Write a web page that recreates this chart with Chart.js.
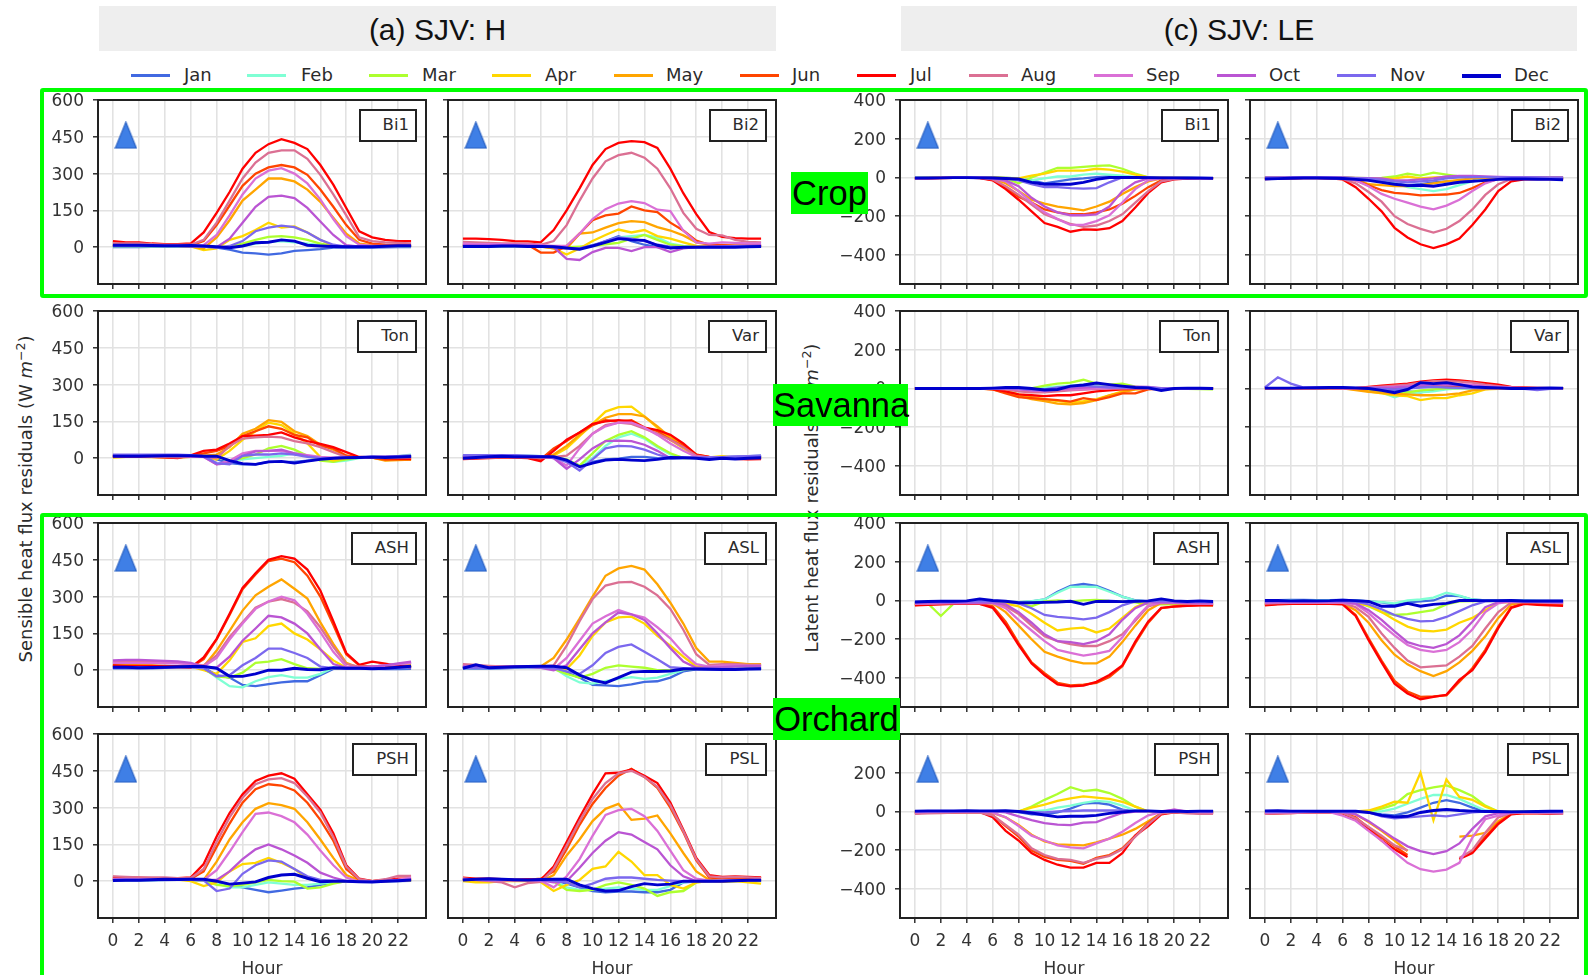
<!DOCTYPE html>
<html>
<head>
<meta charset="utf-8">
<title>SJV residuals</title>
<script src="https://cdn.jsdelivr.net/npm/chart.js@4/dist/chart.umd.js"></script>
<style>
  html, body { margin: 0; padding: 0; background: #fff; width: 1591px; height: 975px; overflow: hidden; }
  body { position: relative; font-family: "DejaVu Sans", sans-serif; color: #2b2b2b; filter: blur(0.4px); }
  canvas { position: absolute; }
  .head { position: absolute; top: 6px; height: 45px; line-height: 47px; background: #eeeeee; text-align: center;
          font: 30px/47px "Liberation Sans", sans-serif; color: #111; }
  .swatch { position: absolute; top: 74px; height: 3px; width: 39px; }
  .legtext { position: absolute; top: 64px; font-size: 18px; line-height: 22px; }
  .tag { position: absolute; box-sizing: border-box; height: 33px; border: 2px solid #222; background: #fff;
         text-align: right; padding-right: 6px; font-size: 16.5px; line-height: 27px; white-space: nowrap; }
  .ylab { position: absolute; font-size: 18px; white-space: nowrap; transform: translate(-50%, -50%) rotate(-90deg); }
  .ylab sup { font-size: 12.5px; line-height: 0; }
  .frame { position: absolute; box-sizing: border-box; border: 4.5px solid #00ff00; border-radius: 3px; z-index: 5; }
  .group { position: absolute; z-index: 6; background: #00ff00; color: #000; height: 42px; text-align: center;
           font: 34.5px/42px "Liberation Sans", sans-serif; }
</style>
</head>
<body>
<script>
const months = ['Jan', 'Feb', 'Mar', 'Apr', 'May', 'Jun', 'Jul', 'Aug', 'Sep', 'Oct', 'Nov', 'Dec'];
const monthColors = ['#4169e1', '#7fffd4', '#adff2f', '#ffd700', '#ffa500', '#ff4500', '#ff0000', '#db7093', '#da70d6', '#ba55d3', '#7b68ee', '#0000cd'];
const hours = [0,1,2,3,4,5,6,7,8,9,10,11,12,13,14,15,16,17,18,19,20,21,22,23];
const hourTicks = [0,2,4,6,8,10,12,14,16,18,20,22];
const hTicks = [0,150,300,450,600];
const leTicks = [-400,-200,0,200,400];

// Sensible heat flux, each row Jan..Dec
const hBi1 = [
  [0,0,0,1,2,3,3,2,-2,-10,-22,-25,-30,-25,-15,-12,-8,-2,-1,-2,-2,-1,0,0],
  [3,3,3,3,3,3,3,3,0,0,5,15,22,25,20,15,8,3,1,1,2,2,3,3],
  [4,4,4,4,4,4,4,2,0,3,15,30,42,45,40,30,15,5,2,2,3,3,4,4],
  [5,5,5,5,5,5,3,-12,-5,30,45,70,100,80,85,60,30,5,2,3,4,4,5,5],
  [6,6,6,5,5,5,3,-5,40,110,190,235,280,280,268,235,185,120,55,15,8,6,6,6],
  [10,8,8,8,8,8,8,25,90,170,250,300,325,335,325,295,235,165,90,30,15,10,8,8],
  [25,20,20,15,12,12,15,60,140,225,320,385,420,440,425,400,335,255,160,65,40,30,25,25],
  [15,15,15,12,10,10,10,30,100,190,280,345,385,395,395,360,295,215,130,40,25,20,18,15],
  [5,5,5,5,5,5,5,8,50,130,215,280,312,322,300,260,195,115,45,10,5,5,5,5],
  [5,5,5,5,5,5,4,2,0,35,100,165,205,210,200,160,105,50,8,2,3,4,5,5],
  [4,4,4,4,4,4,3,2,-3,5,25,65,80,88,82,60,30,10,2,1,2,3,3,4],
  [8,8,8,7,6,6,7,5,2,-2,5,18,20,30,25,8,5,3,2,2,2,4,6,6]
];
const hBi2 = [
  [2,2,2,2,3,3,2,0,-3,-5,5,25,45,25,10,0,-3,-1,0,0,0,1,1,2],
  [3,3,3,3,3,3,2,0,-2,0,8,20,40,45,50,40,15,5,2,2,2,3,3,3],
  [4,4,4,4,4,4,3,2,0,2,5,12,18,35,50,30,10,3,2,2,3,3,4,4],
  [5,5,5,5,5,5,2,-5,-30,-5,25,50,72,60,70,45,35,20,5,3,4,4,5,5],
  [6,6,6,6,6,6,3,-5,-5,55,60,80,98,106,102,82,68,48,20,10,8,6,6,6],
  [12,10,10,10,10,10,-22,-22,5,55,110,130,137,166,150,143,100,68,27,10,8,6,6,6],
  [35,35,33,30,25,24,20,70,150,240,335,400,425,432,428,405,320,220,135,62,42,37,35,35],
  [22,20,18,16,15,14,10,25,90,190,280,350,375,385,365,320,240,140,75,50,48,30,22,20],
  [15,12,12,12,10,10,8,5,5,55,115,155,178,188,180,153,147,68,20,15,20,18,15,15],
  [8,8,8,8,8,8,6,0,-48,-52,-20,-3,-3,-16,0,0,-20,-5,0,2,3,5,6,8],
  [4,4,4,4,4,4,3,0,-5,-5,8,25,40,35,25,10,2,0,1,1,2,3,3,4],
  [3,3,3,5,5,3,3,2,-3,-8,5,20,35,30,28,8,-3,0,0,0,0,0,2,3]
];
const hTon = [
  [10,10,10,10,10,10,10,8,-5,-20,-25,-25,-15,-15,-15,-10,-5,0,2,3,4,4,5,6],
  [12,12,12,12,12,12,12,10,5,-10,-5,0,5,10,20,10,0,-15,-10,0,3,5,8,14],
  [6,8,8,8,10,8,8,8,5,-10,0,15,40,50,35,10,-10,-15,-5,2,4,4,5,8],
  [2,5,5,5,4,2,5,5,-5,30,75,110,145,135,100,60,5,-10,0,3,2,-8,-6,-5],
  [5,6,5,4,3,2,8,10,15,45,100,120,155,148,110,90,55,35,10,3,2,-10,-8,-6],
  [6,6,6,5,5,3,10,20,30,50,90,110,130,120,95,85,50,40,10,3,2,-6,-5,-4],
  [8,6,6,5,3,0,12,30,35,60,90,92,95,105,85,70,58,45,25,5,3,0,-2,-4],
  [8,8,8,6,5,3,6,5,0,50,80,85,88,85,70,60,45,25,5,3,3,2,2,3],
  [10,10,10,10,10,10,8,5,-25,-10,20,30,30,30,20,12,5,2,2,3,4,5,6,8],
  [12,12,12,12,12,12,10,6,-25,-20,10,28,30,35,20,8,0,0,2,4,5,6,8,10],
  [14,14,14,14,14,14,12,8,-20,-25,10,15,15,20,15,5,0,0,2,3,5,6,8,10],
  [8,8,8,9,10,10,10,8,8,-10,-22,-25,-15,-13,-20,-12,-5,0,2,3,5,3,5,7]
];
const hVar = [
  [8,8,8,8,8,8,6,2,-10,-30,-15,-5,-2,5,5,0,-2,0,2,3,5,6,8,10],
  [10,10,10,10,10,10,8,4,-15,-30,0,50,85,100,80,45,15,2,0,1,3,4,6,8],
  [6,6,6,6,6,6,6,3,-5,-30,20,70,95,110,85,50,20,0,1,2,3,3,4,6],
  [2,3,5,5,5,5,5,10,40,90,140,190,208,210,170,125,75,40,10,3,8,2,2,3],
  [0,3,4,4,4,4,5,15,50,95,135,165,180,180,170,130,85,55,15,5,3,0,0,2],
  [-2,0,3,3,3,2,-5,40,70,105,135,155,150,155,125,110,75,50,12,3,2,-2,-2,0],
  [-4,-2,0,2,2,0,-12,30,75,105,140,150,155,150,125,115,95,60,15,5,2,-3,-5,-4],
  [-2,0,2,3,3,3,0,5,10,50,100,135,145,140,120,100,75,45,10,3,2,0,0,0],
  [4,6,8,8,8,7,5,0,-30,40,100,130,145,145,125,95,60,30,5,2,3,4,5,6],
  [8,8,8,8,8,8,6,0,-43,-5,40,70,72,70,55,30,0,2,2,3,4,5,6,8],
  [12,12,12,12,12,10,8,3,-15,-50,-5,40,50,48,35,15,0,1,2,3,4,6,8,10],
  [0,3,6,8,6,6,6,6,-8,-35,-20,-8,-5,-8,-10,-5,3,2,0,-5,0,-3,0,2]
];
const hASH = [
  [8,8,8,8,10,12,12,10,-20,-30,-60,-65,-57,-50,-45,-45,-20,5,8,6,5,4,4,5],
  [14,14,14,14,14,15,15,10,-30,-65,-70,-45,-28,-20,-30,-30,-15,10,10,8,8,10,12,14],
  [18,18,18,16,15,15,15,5,-25,-30,-10,30,35,45,25,8,5,5,6,8,10,12,14,18],
  [22,22,20,18,18,16,15,0,-15,40,115,130,180,190,150,125,85,40,10,10,12,15,18,20],
  [22,22,20,20,18,16,14,15,80,160,243,305,340,370,332,292,195,107,30,10,12,15,18,20],
  [18,16,15,15,14,12,12,45,125,225,330,390,445,455,440,385,300,185,65,20,15,15,15,15],
  [20,18,18,18,15,15,10,52,128,230,335,395,450,465,455,410,325,200,70,22,35,27,18,12],
  [35,34,34,34,32,30,26,20,60,135,195,255,280,290,275,240,175,95,25,15,15,20,25,30],
  [30,30,30,30,28,28,24,15,50,125,190,250,280,300,285,230,155,75,15,10,14,20,25,30],
  [40,42,42,40,38,36,30,15,10,55,120,170,222,215,190,150,85,25,10,10,15,20,28,35],
  [12,12,12,12,12,12,12,8,-25,-20,20,50,88,88,70,50,15,8,5,5,6,8,10,12],
  [12,12,10,11,12,14,15,15,8,-25,-25,-15,0,0,8,3,2,10,8,8,6,8,12,16]
];
const hASL = [
  [8,6,6,8,10,12,12,10,-10,-30,-60,-62,-65,-58,-48,-45,-30,-5,3,3,3,3,4,4],
  [10,8,8,10,12,12,12,10,-25,-50,-55,-45,-35,-28,-35,-30,-15,0,5,5,5,5,6,6],
  [12,10,10,12,14,14,14,5,-15,-30,-15,10,20,15,10,0,0,3,5,5,6,6,8,8],
  [14,12,12,14,14,15,14,10,5,60,140,195,215,218,190,140,100,55,15,15,20,22,22,20],
  [20,18,15,15,15,15,15,50,125,210,300,385,415,425,410,350,275,190,90,35,35,30,25,25],
  [],
  [],
  [25,22,18,15,15,15,15,20,100,200,290,345,358,360,340,305,250,165,65,22,25,25,22,22],
  [18,15,12,14,15,15,12,5,50,120,190,220,245,228,215,175,130,70,25,15,20,20,18,18],
  [16,12,10,12,14,14,10,0,20,85,150,195,235,228,205,150,90,35,10,10,12,15,16,16],
  [10,8,8,10,12,12,12,8,-5,-15,20,70,95,105,75,45,12,8,5,5,5,5,6,6],
  [8,22,10,12,14,15,16,16,10,-20,-40,-52,-30,-8,-5,-5,-3,5,5,4,3,3,5,6]
];
const hPSH = [
  [3,3,3,3,4,5,5,2,-5,-15,-25,-35,-45,-38,-30,-25,-15,-5,-2,-3,-3,-1,0,1],
  [4,4,4,4,5,5,5,2,-10,-25,-25,-15,-5,-10,-15,-15,-10,-5,-2,-2,-2,0,1,2],
  [5,5,5,5,6,6,5,2,-15,-20,-15,-5,5,0,-2,-30,-25,-10,0,-1,-2,0,2,3],
  [6,6,6,6,6,6,0,-20,-5,40,70,75,95,75,50,10,0,0,0,-1,-2,0,2,3],
  [8,8,8,8,8,8,5,5,80,170,240,295,318,310,295,240,170,95,25,3,0,2,3,4],
  [10,10,10,10,10,10,10,40,140,235,320,375,395,390,370,320,250,165,50,5,0,3,6,8],
  [18,15,14,12,12,12,15,70,182,278,354,409,430,440,418,354,292,195,65,10,0,5,10,10],
  [20,18,15,15,15,12,12,50,160,260,340,395,415,420,400,345,280,180,60,8,0,8,22,22],
  [8,8,8,8,8,8,6,5,45,120,200,275,280,265,240,190,125,65,15,-3,-2,0,6,15],
  [6,6,6,6,6,6,5,5,5,40,90,130,150,130,105,75,35,15,0,-3,-3,0,3,5],
  [5,5,5,5,5,5,5,3,-40,-30,30,65,85,80,50,20,5,2,0,-2,-2,0,2,4],
  [3,4,4,6,8,7,8,8,0,-12,-8,-3,15,25,28,12,-2,0,0,-2,-3,0,2,5]
];
const hPSL = [
  [5,6,8,6,5,5,6,4,-10,-25,-40,-45,-42,-42,-45,-45,-35,-5,-2,0,0,1,2,2],
  [4,6,6,6,5,5,5,3,-25,-35,-35,-30,-25,-30,-35,-35,-20,-5,0,0,0,1,2,2],
  [3,4,4,4,4,4,4,0,-35,-40,-35,-15,-5,-15,-30,-60,-45,-40,-5,0,0,0,1,1],
  [0,-5,-5,0,0,0,-3,-40,-15,5,50,60,120,80,25,25,-15,-30,-5,0,-3,0,-5,-10],
  [5,3,2,3,3,3,0,25,105,170,245,295,315,250,255,268,195,115,40,5,0,2,4,5],
  [5,5,5,5,5,5,10,40,130,230,315,380,430,458,425,380,300,200,85,15,12,14,14,12],
  [15,10,10,8,5,8,5,60,160,260,355,440,442,455,430,400,320,210,95,25,18,20,18,15],
  [12,5,0,-5,-25,-8,-3,50,145,245,335,400,440,450,425,385,310,205,90,20,16,18,16,12],
  [6,5,4,3,3,3,2,-25,20,90,185,270,290,295,265,205,125,45,10,2,2,3,4,5],
  [5,5,4,4,4,4,3,-5,0,55,115,165,200,190,160,130,65,20,0,0,0,2,3,4],
  [5,5,5,5,5,5,4,2,-5,-25,-10,10,15,15,10,5,2,0,0,0,1,2,3,3],
  [5,8,10,8,6,5,7,8,8,-15,-30,-40,-38,-22,-10,-15,-12,0,0,0,0,2,4,4]
];

// Latent heat flux, each row Jan..Dec
const leBi1 = [
  [-2,-2,-1,-1,0,0,0,-2,-5,-15,-30,-20,-10,-5,2,5,3,1,0,-1,-2,-2,-3,-3],
  [-2,-2,-1,-1,0,0,0,-2,-4,-15,-5,5,5,15,20,15,10,3,0,-1,-2,-2,-3,-3],
  [-2,-2,-1,-1,0,0,0,-5,-30,0,25,50,50,55,60,62,45,20,0,-1,-2,-2,-3,-3],
  [-3,-2,-2,-1,0,0,0,-2,-5,10,20,35,35,35,45,40,30,15,0,-1,-2,-3,-3,-4],
  [-4,-3,-2,-1,-1,-1,-5,-30,-70,-115,-135,-150,-160,-170,-150,-125,-85,-50,-20,-5,-3,-3,-4,-4],
  [-4,-3,-2,-1,-1,-2,-12,-50,-100,-130,-165,-180,-190,-190,-180,-165,-135,-95,-50,-15,-5,-4,-4,-5],
  [-5,-4,-3,-2,-1,-3,-15,-60,-115,-175,-235,-255,-280,-268,-270,-262,-225,-155,-80,-25,-10,-6,-5,-5],
  [-5,-4,-3,-2,-1,-2,-10,-45,-90,-140,-190,-215,-240,-255,-248,-225,-190,-130,-70,-20,-8,-5,-5,-5],
  [-4,-3,-2,-1,-1,-1,-5,-20,-70,-130,-180,-215,-245,-245,-225,-195,-130,-60,-15,-5,-3,-3,-4,-4],
  [-3,-3,-2,-1,-1,-1,-3,-15,-45,-105,-150,-180,-195,-195,-190,-150,-70,-25,-5,-2,-2,-3,-3,-3],
  [-3,-2,-2,-1,0,0,-1,-5,-15,-35,-50,-50,-55,-58,-55,-25,0,2,0,-1,-2,-2,-3,-3],
  [-3,-3,-2,-1,-1,-2,-3,-5,-8,-25,-35,-35,-35,-25,-10,0,0,0,-1,-2,-2,-3,-3,-4]
];
const leBi2 = [
  [-5,-4,-3,-2,-2,-3,-4,-8,-12,-20,-30,-40,-35,-25,-20,-20,-15,-5,-3,-3,-4,-4,-5,-5],
  [-2,-2,-1,-1,-1,-1,-2,-3,-5,-5,-30,-50,-60,-70,-60,-40,-20,-5,-2,-1,-1,-2,-2,-2],
  [0,0,1,1,1,1,0,-2,-3,-2,5,20,10,25,15,5,2,1,0,0,0,0,0,0],
  [-1,-1,-1,0,0,0,-1,-3,-6,-8,-5,5,-5,0,2,3,2,1,0,0,0,-1,-1,-1],
  [-2,-2,-1,-1,-1,-1,-2,-8,-35,-40,-45,-45,-40,-30,-20,-12,-5,-2,-1,-1,-1,-1,-2,-2],
  [-6,-4,-3,-2,-2,-3,-5,-15,-40,-65,-80,-85,-92,-90,-88,-80,-55,-25,-8,-4,-4,-5,-5,-6],
  [-8,-6,-4,-3,-3,-4,-10,-50,-110,-175,-260,-310,-345,-365,-345,-315,-245,-165,-70,-20,-10,-8,-8,-8],
  [-7,-5,-4,-3,-3,-4,-8,-30,-75,-125,-200,-240,-265,-285,-265,-225,-165,-90,-35,-8,-6,-6,-7,-7],
  [-4,-3,-2,-1,-1,-2,-5,-15,-45,-85,-110,-130,-150,-165,-145,-115,-70,-30,-8,-3,-2,-2,-3,-3],
  [0,0,1,2,2,2,0,-2,-3,-5,-15,-15,-10,-5,5,8,8,5,3,2,2,1,0,0],
  [-1,-1,0,0,0,0,-1,-3,-6,-12,-20,-25,-20,-15,-5,0,2,2,1,0,0,0,-1,-1],
  [-8,-6,-4,-3,-3,-4,-5,-10,-15,-25,-35,-42,-40,-45,-35,-25,-20,-15,-10,-8,-8,-9,-10,-12]
];
const leTon = [
  [0,0,0,0,0,0,0,0,1,0,2,5,10,15,15,5,3,1,0,0,0,0,0,0],
  [0,0,0,0,0,0,0,0,0,2,5,10,15,20,15,10,4,1,0,0,0,0,0,0],
  [-2,-2,-1,-1,0,0,0,0,0,0,15,25,30,45,25,20,25,10,0,-3,-2,-2,-3,-5],
  [0,0,0,0,0,0,-2,-10,-30,-45,-55,-65,-72,-65,-55,-35,-15,-5,-2,0,0,0,0,0],
  [0,0,0,0,0,-1,-5,-20,-40,-55,-65,-78,-82,-75,-60,-35,-20,-5,-2,0,0,0,0,0],
  [-1,-1,-1,0,0,-1,-5,-25,-45,-50,-55,-60,-68,-50,-60,-45,-25,-25,-5,-1,0,0,0,-1],
  [-1,-1,-1,0,0,-1,-3,-15,-30,-35,-40,-35,-35,-25,-15,-10,-5,-2,-1,0,0,0,0,-1],
  [0,0,0,0,0,0,-1,-5,-15,-20,-20,-15,-10,-6,-3,0,1,1,0,0,0,0,0,0],
  [0,0,0,0,0,0,0,-2,-5,-10,-15,-5,-5,-5,0,0,2,3,2,0,0,0,0,0],
  [0,0,0,0,0,0,0,0,-3,-10,-10,-5,0,5,8,10,10,10,8,2,0,0,0,0],
  [0,0,0,0,0,0,0,0,0,-5,-5,5,10,15,10,5,5,5,5,0,0,0,0,0],
  [0,0,0,0,0,0,2,5,5,0,-8,-5,12,18,28,20,12,5,3,-10,0,2,1,0]
];
const leVar = [
  [0,0,0,0,0,0,0,0,-2,-5,-10,-15,-20,-10,0,2,3,2,0,0,0,0,0,0],
  [0,0,0,0,0,0,0,-2,-8,-20,-45,-25,-20,-15,-5,0,2,0,-2,-2,0,0,0,0],
  [0,0,0,0,0,0,0,-2,-5,-10,-30,-20,-10,-5,0,2,2,0,0,0,0,0,0,0],
  [0,0,0,0,0,0,0,-5,-15,-25,-35,-40,-60,-50,-50,-35,-25,-5,-2,0,0,0,0,0],
  [0,0,0,0,0,0,0,-8,-18,-22,-28,-30,-35,-35,-32,-25,-10,-3,0,0,0,0,0,0],
  [0,0,0,0,0,0,0,-2,-3,-5,-2,2,8,12,10,8,5,2,0,0,0,0,0,0],
  [2,2,2,2,3,3,0,2,8,15,20,25,35,42,45,42,35,28,20,8,5,3,2,2],
  [2,2,2,2,2,2,1,2,5,10,15,20,30,38,38,35,30,20,12,5,3,2,2,2],
  [2,2,2,2,2,2,1,2,3,5,8,12,20,25,25,22,18,12,8,4,2,2,2,2],
  [2,2,2,2,2,2,2,2,3,4,6,10,15,20,20,18,12,8,5,3,2,2,2,2],
  [5,58,25,5,5,5,4,3,1,-2,-5,0,5,8,5,3,2,1,0,0,-2,-8,-2,0],
  [2,2,2,3,4,5,5,3,0,-10,-22,-5,30,25,30,20,8,5,3,0,0,2,3,2]
];
const leASH = [
  [-12,-8,-6,-5,-3,-3,-5,-8,-10,-5,5,45,75,85,75,50,20,0,-5,-6,-8,-8,-10,-10],
  [-12,-8,-6,-5,-3,-2,-5,-8,-8,-3,5,40,70,72,70,45,20,0,-5,-6,-8,-8,-10,-10],
  [-20,-15,-80,-15,-10,-10,-10,-12,-15,-30,-5,0,-5,0,3,-2,-5,-10,-20,-20,-20,-22,-22,-25],
  [-18,-16,-15,-14,-14,-14,-14,-16,-30,-70,-115,-155,-145,-140,-165,-145,-90,-35,-5,-8,-12,-15,-16,-18],
  [-20,-18,-16,-15,-15,-15,-15,-60,-130,-200,-265,-290,-310,-325,-325,-290,-215,-130,-50,-12,-14,-16,-18,-20],
  [-24,-20,-18,-18,-18,-18,-30,-110,-220,-320,-375,-425,-438,-435,-425,-395,-340,-220,-115,-40,-30,-26,-24,-24],
  [-25,-22,-20,-18,-18,-18,-38,-125,-230,-325,-385,-433,-443,-440,-420,-385,-335,-212,-108,-38,-32,-28,-25,-25],
  [-18,-16,-15,-14,-14,-14,-14,-30,-70,-130,-185,-210,-225,-235,-235,-210,-175,-105,-30,-12,-14,-16,-18,-18],
  [-16,-15,-14,-13,-13,-13,-13,-40,-100,-155,-210,-255,-270,-285,-275,-260,-190,-95,-25,-10,-12,-14,-15,-16],
  [-14,-13,-12,-12,-12,-12,-12,-20,-60,-115,-175,-210,-215,-225,-210,-175,-100,-40,-10,-8,-10,-12,-13,-14],
  [-8,-6,-6,-5,-4,-4,-5,-5,-15,-40,-75,-85,-90,-98,-88,-60,-25,-5,-3,-3,-5,-6,-7,-8],
  [-8,-5,-4,-4,-2,8,0,-4,-12,-12,-10,-8,-4,-20,-5,-4,-6,-4,-2,8,-2,-5,-2,-5]
];
const leASL = [
  [-2,2,3,3,2,2,3,1,-5,-10,-20,-10,-5,0,25,22,5,0,0,0,-1,-2,-2,-2],
  [-3,0,0,0,1,1,2,0,-5,-8,-15,0,5,15,40,25,5,0,-1,-1,-1,-2,-3,-3],
  [-8,-6,-5,-4,-4,-4,-4,-8,-30,-60,-75,-70,-60,-50,-20,-5,-3,-3,-3,-4,-5,-5,-6,-8],
  [-15,-14,-12,-12,-12,-12,-12,-14,-25,-60,-100,-135,-155,-160,-150,-115,-90,-50,-10,-8,-10,-12,-14,-15],
  [-18,-16,-14,-14,-14,-14,-15,-50,-115,-205,-280,-330,-365,-390,-365,-320,-260,-185,-90,-20,-10,-12,-14,-16],
  [-22,-18,-16,-16,-16,-16,-18,-75,-195,-310,-415,-470,-498,-495,-490,-420,-350,-255,-135,-35,-15,-18,-20,-22],
  [-25,-20,-18,-18,-18,-18,-20,-80,-205,-320,-430,-480,-510,-498,-487,-410,-360,-265,-143,-38,-18,-22,-25,-28],
  [-16,-14,-12,-12,-12,-12,-12,-35,-85,-170,-245,-310,-345,-340,-335,-290,-235,-145,-60,-10,-8,-10,-12,-14],
  [-12,-10,-10,-10,-10,-10,-10,-20,-65,-125,-180,-230,-255,-265,-255,-215,-150,-60,-15,-5,-6,-8,-10,-12],
  [-10,-8,-8,-8,-8,-8,-8,-15,-50,-100,-160,-215,-235,-245,-225,-180,-110,-35,-8,-4,-5,-6,-8,-10],
  [-5,-3,-3,-3,-3,-3,-3,-6,-20,-45,-75,-95,-108,-105,-85,-55,-25,-5,-2,-2,-3,-4,-4,-5],
  [0,0,-2,-1,-2,-1,2,-1,-5,-30,-30,-15,-30,-20,-15,0,0,-1,-1,0,-3,-3,-2,-3]
];
const lePSH = [
  [0,0,0,0,1,1,1,0,-3,-15,-15,-5,15,40,45,35,10,0,-1,-1,0,0,0,0],
  [0,0,0,0,1,1,1,1,0,0,5,20,30,45,55,50,30,5,0,-1,0,0,0,0],
  [-1,0,0,0,0,1,1,0,0,25,60,90,125,105,112,95,65,25,0,-2,-1,-1,-1,-1],
  [-2,-1,-1,0,0,0,0,-2,0,20,35,55,68,78,72,65,50,25,0,-3,-2,-2,-2,-2],
  [-4,-3,-2,-2,-1,-1,-8,-30,-70,-120,-155,-170,-172,-175,-160,-140,-120,-90,-50,-10,-4,-3,-4,-4],
  [-8,-6,-5,-4,-3,-4,-20,-75,-130,-200,-235,-250,-255,-270,-240,-225,-190,-125,-60,-8,-4,-6,-8,-8],
  [-8,-6,-5,-4,-3,-3,-30,-100,-150,-215,-250,-275,-290,-290,-265,-265,-215,-125,-75,-15,-5,-6,-8,-8],
  [-12,-10,-8,-6,-5,-6,-20,-70,-120,-190,-225,-245,-250,-265,-245,-230,-195,-130,-65,-10,-5,-10,-12,-12],
  [-4,-3,-2,-2,-1,-1,-6,-30,-75,-125,-150,-175,-185,-190,-165,-140,-105,-60,-20,-3,10,-2,-3,-4],
  [-1,-1,-1,0,0,0,0,-5,-25,-45,-60,-68,-70,-58,-55,-30,-8,-1,0,0,8,0,0,-1],
  [1,1,1,1,2,2,2,1,0,-3,-5,0,2,5,5,5,5,3,2,1,2,1,1,1],
  [2,3,3,3,4,3,3,4,0,-8,-18,-28,-25,-25,-20,-10,-3,3,3,0,2,0,2,2]
];
const lePSL = [
  [2,2,2,2,1,1,1,0,-3,-15,-20,-5,20,45,58,45,20,0,-1,-1,0,0,0,0],
  [1,1,1,1,1,1,1,1,0,0,15,40,65,85,85,65,35,5,0,-1,0,0,0,0],
  [0,0,0,0,0,0,0,0,0,15,35,90,110,125,135,110,80,30,0,-1,-1,-1,0,0],
  [-2,-2,-1,-1,0,0,0,0,5,25,50,45,200,-45,165,75,60,25,0,-2,-2,-2,-2,-2],
  [-5,-4,-3,-2,-2,-2,-4,-15,-55,-100,-150,-205,null,null,null,-130,-125,-110,-50,-10,-6,-5,-5,-5],
  [-10,-8,-6,-5,-4,-4,-8,-30,-85,-135,-180,-225,null,null,null,-245,-205,-130,-60,-12,-8,-8,-10,-10],
  [-12,-10,-8,-6,-5,-5,-10,-40,-90,-150,-195,-235,null,null,null,-245,-215,-140,-65,-15,-8,-10,-12,-12],
  [-12,-10,-8,-6,-5,-5,-8,-35,-80,-125,-175,-200,null,null,null,-240,-200,-110,-30,-8,-6,-8,-10,-12],
  [-6,-5,-4,-3,-3,-3,-22,-48,-100,-150,-210,-265,-298,-310,-300,-265,-135,-40,-22,-5,-3,-3,-4,-5],
  [-4,-3,-3,-2,-2,-2,-3,-15,-50,-95,-140,-180,-205,-220,-205,-165,-90,-25,-8,-3,-3,-3,-3,-4],
  [-2,-2,-1,-1,-1,-1,-2,-3,-5,-25,-35,-30,-25,-20,-25,-15,-5,-1,-1,-1,-2,-2,-2,-2],
  [3,4,2,2,1,1,2,2,-5,-20,-28,-25,-5,5,10,5,2,0,0,-2,-1,0,1,2]
];

const hPanels = [[hBi1, 'Bi1'], [hBi2, 'Bi2'], [hTon, 'Ton'], [hVar, 'Var'], [hASH, 'ASH'], [hASL, 'ASL'], [hPSH, 'PSH'], [hPSL, 'PSL']];
const lePanels = [[leBi1, 'Bi1'], [leBi2, 'Bi2'], [leTon, 'Ton'], [leVar, 'Var'], [leASH, 'ASH'], [leASL, 'ASL'], [lePSH, 'PSH'], [lePSL, 'PSL']];
const markerRows = [0, 2, 3]; // rows that carry the triangle, not the savanna row
const markerHour = 1;
const markerH = 457;
const markerLE = 218;

// page layout
const colLeft = [98, 448, 900, 1250];
const rowTop = [100, 311, 523, 734];
const panelW = 328;
const panelH = 184;
const pad = { left: 70, top: 10, right: 8, bottom: 10, lastBottom: 62 };

function addDiv(cls, css, html) {
  const d = document.createElement('div');
  d.className = cls;
  d.style.cssText = css;
  d.innerHTML = html;
  document.body.appendChild(d);
  return d;
}

// triangle used as point style, so it goes through the scales like the rest
const triangle = document.createElement('canvas');
triangle.width = 23;
triangle.height = 28;
(function() {
  const c = triangle.getContext('2d');
  c.fillStyle = '#3f7fe6';
  c.strokeStyle = '#2a62c4';
  c.lineWidth = 1.2;
  c.beginPath();
  c.moveTo(11.5, 1);
  c.lineTo(22, 27);
  c.lineTo(1, 27);
  c.closePath();
  c.fill();
  c.stroke();
})();

const framePlugin = {
  id: 'panelFrame',
  beforeDraw(chart) {
    // y tick labels sit a touch lower in the reference
    const s = chart.scales.y;
    if (!chart.$labelsMoved) {
      s.getLabelItems(chart.chartArea).forEach(item => { item.options.translation[1] += 1.5; });
      chart.$labelsMoved = true;
    }
  },
  afterDatasetsDraw(chart) {
    const a = chart.chartArea;
    const c = chart.ctx;
    c.save();
    c.strokeStyle = '#222';
    c.lineWidth = 2;
    c.strokeRect(a.left, a.top, a.right - a.left, a.bottom - a.top);
    c.restore();
  }
};

function drawPanel(panel, col, row, ticks, yMin, yMax, markerY) {
  const isLast = row === rowTop.length - 1;
  const canvas = document.createElement('canvas');
  const bottom = isLast ? pad.lastBottom : pad.bottom;
  canvas.width = pad.left + panelW + pad.right;
  canvas.height = pad.top + panelH + bottom;
  canvas.style.left = (colLeft[col] - pad.left) + 'px';
  canvas.style.top = (rowTop[row] - pad.top) + 'px';
  document.body.appendChild(canvas);

  const datasets = panel[0].map((vals, i) => ({
    label: months[i],
    data: vals.map((v, h) => ({ x: hours[h], y: v })),
    borderColor: monthColors[i],
    borderWidth: i === 11 ? 2.9 : 2.3,
    pointRadius: 0,
    tension: 0,
    spanGaps: false,
    order: 12 - i
  }));
  if (markerRows.includes(row)) {
    datasets.push({
      data: [{ x: markerHour, y: markerY }],
      pointStyle: triangle,
      pointRadius: 10,
      showLine: false,
      order: 0
    });
  }

  new Chart(canvas, {
    type: 'line',
    data: { datasets },
    plugins: [framePlugin],
    options: {
      responsive: false,
      animation: false,
      parsing: false,
      normalized: true,
      layout: { autoPadding: false, padding: { top: pad.top, right: pad.right, left: 0, bottom: 0 } },
      plugins: { legend: { display: false }, tooltip: { enabled: false } },
      scales: {
        x: {
          type: 'linear',
          min: -1.15,
          max: 24.15,
          afterBuildTicks: s => { s.ticks = hourTicks.map(v => ({ value: v })); },
          afterFit: s => { s.height = bottom; s.paddingLeft = 0; s.paddingRight = 0; },
          grid: { color: '#e2e2e2', lineWidth: 1.6, tickColor: '#222', tickLength: 5, tickWidth: 1.4 },
          border: { display: false },
          ticks: {
            display: isLast,
            autoSkip: false,
            maxRotation: 0,
            padding: 8,
            color: '#333',
            font: { family: 'DejaVu Sans', size: 17 }
          },
          title: {
            display: isLast,
            text: 'Hour',
            color: '#333',
            font: { family: 'DejaVu Sans', size: 17 },
            padding: { top: 0, bottom: 0 }
          }
        },
        y: {
          min: yMin,
          max: yMax,
          afterBuildTicks: s => { s.ticks = ticks.map(v => ({ value: v })); },
          afterFit: s => { s.width = pad.left; s.paddingTop = 0; s.paddingBottom = 0; },
          grid: { color: '#e2e2e2', lineWidth: 1.6, tickColor: '#222', tickLength: 5, tickWidth: 1.4 },
          border: { display: false },
          ticks: {
            autoSkip: false,
            padding: 9,
            color: '#333',
            font: { family: 'DejaVu Sans', size: 17 },
            callback: v => (col % 2 === 1 ? '' : String(v).replace('-', '\u2212'))
          }
        }
      }
    }
  });

  // label box in the panel corner
  const tag = addDiv('tag', 'top:' + (rowTop[row] + 9) + 'px', panel[1]);
  const probe = document.createElement('canvas').getContext('2d');
  probe.font = '16.5px "DejaVu Sans"';
  const tagW = Math.round(probe.measureText(panel[1]).width) + 32;
  tag.style.width = tagW + 'px';
  tag.style.left = (colLeft[col] + panelW - 9 - tagW) + 'px';
}

// column headers
addDiv('head', 'left:99px;width:677px', '(a) SJV: H');
addDiv('head', 'left:901px;width:676px', '(c) SJV: LE');

// legend
const swatchX = [131, 247, 369, 492, 614, 740, 857, 969, 1094, 1217, 1337, 1462];
const legendX = [184, 301, 422, 545, 666, 792, 910, 1021, 1146, 1269, 1390, 1514];
months.forEach((m, i) => {
  addDiv('swatch', 'left:' + swatchX[i] + 'px;background:' + monthColors[i] + (i === 11 ? ';height:3.5px' : ''), '');
  addDiv('legtext', 'left:' + legendX[i] + 'px', m);
});

// y axis titles
addDiv('ylab', 'left:25px;top:499px', 'Sensible heat flux residuals (W <i>m</i><sup>\u22122</sup>)');
addDiv('ylab', 'left:811px;top:498px', 'Latent heat flux residuals (W <i>m</i><sup>\u22122</sup>)');

// panels, H on the left two columns and LE on the right two
hPanels.forEach((p, i) => drawPanel(p, i % 2, Math.floor(i / 2), hTicks, -150, 600, markerH));
lePanels.forEach((p, i) => drawPanel(p, 2 + i % 2, Math.floor(i / 2), leTicks, -550, 400, markerLE));

// green overlays
addDiv('frame', 'left:40px;top:88px;width:1548px;height:210px', '');
addDiv('frame', 'left:40px;top:513px;width:1548px;height:480px', '');
addDiv('group', 'left:791px;top:172px;width:77px', 'Crop');
addDiv('group', 'left:773px;top:384px;width:135px', 'Savanna');
addDiv('group', 'left:773px;top:698px;width:127px', 'Orchard');
</script>
</body>
</html>
